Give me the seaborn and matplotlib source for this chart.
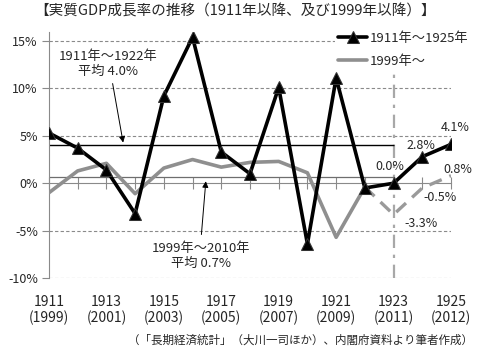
import numpy as np
import pandas as pd
import matplotlib
matplotlib.use('Agg')
import matplotlib.pyplot as plt
import seaborn as sns

# données (%)
years = list(range(1911, 1926))
growth_1911 = [5.3, 3.7, 1.4, -3.2, 9.2, 15.4, 3.3, 1.0, 10.1, -6.4, 11.1, -0.5, 0.0, 2.8, 4.1]
years_1999 = list(range(1911, 1923))
growth_1999 = [-1.0, 1.3, 2.1, -1.1, 1.6, 2.5, 1.7, 2.2, 2.3, 1.1, -5.7, -0.4]
years_proj = [1922, 1923, 1924, 1925]
growth_proj = [-0.4, -3.3, -0.5, 0.8]
avg_1911, avg_1999 = 4.0, 0.7
tick_labels = {1911: '1911\n(1999)', 1913: '1913\n(2001)', 1915: '1915\n(2003)',
               1917: '1917\n(2005)', 1919: '1919\n(2007)', 1921: '1921\n(2009)',
               1923: '1923\n(2011)', 1925: '1925\n(2012)'}
end_labels = [(1925.16, 5.9, '4.1%'), (1923.94, 4.0, '2.8%'), (1922.88, 1.8, '0.0%'),
              (1925.25, 1.5, '0.8%'), (1924.62, -1.5, '-0.5%'), (1923.94, -4.2, '-3.3%')]

sns.set_style('white')
plt.rcParams['font.family'] = ['Noto Sans CJK JP', 'DejaVu Sans']

df_a = pd.DataFrame({'x': years, 'y': growth_1911})
df_b = pd.DataFrame({'x': years_1999, 'y': growth_1999})
df_c = pd.DataFrame({'x': years_proj, 'y': growth_proj})

fig = plt.figure(figsize=(4.8, 3.52), dpi=100)
ax = fig.add_axes([0.102, 0.21, 0.8376, 0.7005])

# grille
for v in [15, 10, 5, -5, -10]:
    ax.axhline(v, color='#8a8a8a', lw=0.8, ls=(0, (3, 2)), zorder=1)
ax.axvline(1923, color='#a8a8a8', lw=1.6, ls=(0, (6, 3, 1.5, 3)), zorder=1)

# moyennes
ax.hlines(avg_1911, 1911, 1923, color='black', lw=1.0, zorder=2)
ax.hlines(avg_1999, 1911, 1923, color='#6e6e6e', lw=0.9, zorder=2)

sns.lineplot(data=df_b, x='x', y='y', ax=ax, color='#8f8f8f', lw=2.6, label='1999年～', zorder=3)
sns.lineplot(data=df_c, x='x', y='y', ax=ax, color='#9a9a9a', lw=2.4, ls=(0, (4, 2.5)), zorder=3)
sns.lineplot(data=df_a, x='x', y='y', ax=ax, color='black', lw=2.6, marker='^', markersize=8,
             markeredgecolor='#333333', label='1911年～1925年', zorder=4)
ax.get_legend().remove()

ax.set_xlim(1911, 1925)
ax.set_ylim(-10, 16)
ax.set_xlabel('')
ax.set_ylabel('')

ax.set_yticks([15, 10, 5, 0, -5, -10])
ax.set_yticklabels(['15%', '10%', '5%', '0%', '-5%', '-10%'], fontsize=9)
ax.set_xticks(years)
ax.set_xticklabels([tick_labels.get(y, '') for y in years], fontsize=9.5)
for lab in ax.get_xticklabels():
    lab.set_linespacing(1.15)

for s in ['right', 'bottom']:
    ax.spines[s].set_visible(False)
ax.spines['left'].set_color('#8a8a8a')
ax.spines['top'].set_position(('data', 0))
ax.spines['top'].set_color('#8a8a8a')
ax.spines['top'].set_zorder(2)
ax.tick_params(axis='x', bottom=False, top=True, labelbottom=True, labeltop=False,
               direction='inout', length=8, color='#8a8a8a', pad=8)
ax.tick_params(axis='y', left=True, direction='out', length=5, color='#8a8a8a', pad=3)

# légende
h, l = ax.get_legend_handles_labels()
leg = fig.legend(h[::-1], l[::-1], loc='upper right', bbox_to_anchor=(0.995, 0.935),
                 fontsize=9.5, frameon=True, facecolor='white', edgecolor='none', framealpha=1,
                 handlelength=2.2, handletextpad=0.2, labelspacing=0.75, borderpad=0.2)

# annotations
ax.text(1913.05, 12.6, '1911年～1922年\n平均 4.0%', ha='center', va='center', fontsize=9.5,
        linespacing=1.2, zorder=5)
ax.annotate('', xy=(1913.6, 4.0), xytext=(1913.2, 10.8),
            arrowprops=dict(arrowstyle='-|>', color='black', lw=0.7, mutation_scale=9))
ax.text(1916.3, -7.7, '1999年～2010年\n平均 0.7%', ha='center', va='center', fontsize=9.5,
        linespacing=1.2, zorder=5)
ax.annotate('', xy=(1916.47, 0.5), xytext=(1916.3, -5.7),
            arrowprops=dict(arrowstyle='-|>', color='black', lw=0.7, mutation_scale=9))
for x, y, t in end_labels:
    ax.text(x, y, t, ha='center', va='center', fontsize=9, zorder=5)

fig.text(0.49, 0.966, '【実質GDP成長率の推移（1911年以降、及び1999年以降）】',
         ha='center', va='center', fontsize=10.5)
fig.text(0.985, 0.034, '（「長期経済統計」（大川一司ほか）、内閣府資料より筆者作成）',
         ha='right', va='center', fontsize=8.3)

fig.savefig('out.png', dpi=100)
